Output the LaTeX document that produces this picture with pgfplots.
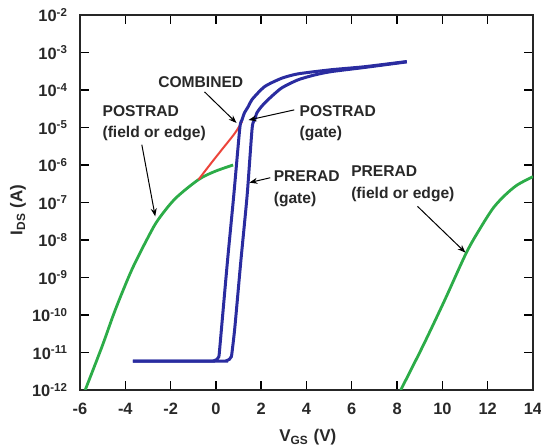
\documentclass[border=0pt]{standalone}
\usepackage{fontspec}
\setmainfont{Liberation Sans}
\usepackage{pgfplots}
\pgfplotsset{compat=1.18}
\usetikzlibrary{arrows.meta}

\definecolor{gateblue}{RGB}{42,44,160}
\definecolor{edgegreen}{RGB}{44,172,72}
\definecolor{combred}{RGB}{236,68,58}
\definecolor{txt}{RGB}{40,40,40}

\begin{document}
\begin{tikzpicture}
\begin{axis}[
    scale only axis,
    width=226.5pt, height=187.5pt,
    ymode=log,
    xmin=-6, xmax=14, ymin=1e-12, ymax=1e-2,
    xtick={-6,-4,-2,0,2,4,6,8,10,12,14},
    xticklabels={-6,-4,-2,0,2,4,6,8,10,12,14},
    ytick={1e-12,1e-11,1e-10,1e-9,1e-8,1e-7,1e-6,1e-5,1e-4,1e-3,1e-2},
    yticklabels={10\textsuperscript{-12},10\textsuperscript{-11},10\textsuperscript{-10},
        10\textsuperscript{-9},10\textsuperscript{-8},10\textsuperscript{-7},10\textsuperscript{-6},
        10\textsuperscript{-5},10\textsuperscript{-4},10\textsuperscript{-3},10\textsuperscript{-2}},
    xminorticks=false, yminorticks=false,
    tick align=inside,
    major tick length=4.5pt,
    every tick/.style={black, line width=0.7pt},
    axis line style={line width=1.1pt, black!85},
    tick label style={font=\bfseries\fontsize{8.2}{9}\selectfont, text=txt},
    xticklabel style={yshift=-3pt},
    yticklabel style={xshift=-2.5pt},
    every axis x label/.style={at={(axis description cs:0.503,-0.125)}, anchor=center},
    every axis y label/.style={at={(axis description cs:-0.137,0.48)}, rotate=90, anchor=center},
    label style={font=\bfseries\fontsize{8.5}{10}\selectfont, text=txt},
    xlabel={V\textsubscript{GS} (V)},
    ylabel={I\textsubscript{DS} (A)},
]
\coordinate (bl) at (rel axis cs:0,0);
\coordinate (tr) at (rel axis cs:1,1);

% POSTRAD field/edge
\addplot[edgegreen, line width=1.4pt, smooth, tension=0.5] coordinates {
  (-5.77,1.0e-12) (-5.02,1.48e-11) (-4.44,1.38e-10) (-3.71,1.62e-9) (-2.97,1.26e-8)
  (-2.55,3.47e-8) (-1.80,1.26e-7) (-0.77,4.07e-7) (-0.04,6.76e-7) (0.76,1.0e-6)
};
% combined
\addplot[combred, line width=1pt, smooth, tension=0.5] coordinates {
  (-0.77,4.07e-7) (-0.22,1.10e-6) (0.25,2.51e-6) (0.84,7.08e-6) (1.16,1.45e-5)
};
% PRERAD field/edge
\addplot[edgegreen, line width=1.4pt, smooth, tension=0.5] coordinates {
  (8.16,1.0e-12) (9.13,1.45e-11) (10.09,2.4e-10) (11.06,4.6e-9) (11.68,2.1e-8)
  (12.25,7.2e-8) (12.78,1.6e-7) (13.31,2.95e-7) (14.0,4.9e-7)
};
% POSTRAD gate
\addplot[gateblue, line width=1.5pt, smooth, tension=0.4] coordinates {
  (-3.67,5.89e-12) (-0.25,5.89e-12) (-0.10,6.0e-12) (0.055,6.6e-12) (0.12,7.6e-12)
  (0.145,8.9e-12) (0.25,4.57e-11) (0.51,2.69e-9) (0.79,1.58e-7) (1.055,9.55e-6) (1.15,1.58e-5)
  (1.26,2.45e-5) (1.44,3.72e-5) (1.60,5.62e-5) (2.15,1.23e-4) (2.89,2.04e-4)
  (3.62,2.69e-4) (5.09,3.47e-4) (6.55,4.17e-4) (8.43,5.75e-4)
};
% PRERAD gate
\addplot[gateblue, line width=1.5pt, smooth, tension=0.4] coordinates {
  (-3.67,5.89e-12) (0.30,5.89e-12) (0.45,6.0e-12) (0.60,6.6e-12) (0.67,7.6e-12)
  (0.70,8.9e-12) (0.835,4.57e-11) (1.10,2.69e-9) (1.38,1.58e-7) (1.60,9.55e-6) (1.71,1.58e-5)
  (1.80,2.40e-5) (2.00,3.55e-5) (2.30,5.50e-5) (2.89,1.12e-4) (3.62,1.86e-4)
  (4.35,2.51e-4) (5.09,3.09e-4) (6.55,3.98e-4) (8.43,5.62e-4)
};

\begin{scope}[every node/.style={font=\bfseries\fontsize{7.8}{10.7}\selectfont, text=txt, inner sep=0pt}]
\node[anchor=center] at (axis cs:-0.67,1.58e-4) {COMBINED};
\node[anchor=west, align=left] at (axis cs:-5.02,1.29e-5) {POSTRAD\\(field or edge)};
\node[anchor=west, align=left] at (axis cs:3.68,1.29e-5) {POSTRAD\\(gate)};
\node[anchor=west, align=left] at (axis cs:2.54,2.34e-7) {PRERAD\\(gate)};
\node[anchor=west, align=left] at (axis cs:5.96,3.16e-7) {PRERAD\\(field or edge)};
\end{scope}

\begin{scope}[-{Stealth[length=4pt,width=3pt]}, line width=0.5pt, black]
\draw (axis cs:-0.50,8.9e-5) -- (axis cs:0.91,1.32e-5);
\draw (axis cs:3.46,2.95e-5) -- (axis cs:1.44,1.58e-5);
\draw (axis cs:-3.27,3.47e-6) -- (axis cs:-2.68,4.27e-8);
\draw (axis cs:2.40,4.57e-7) -- (axis cs:1.48,3.39e-7);
\draw (axis cs:8.90,7.9e-8) -- (axis cs:11.02,4.6e-9);
\end{scope}
\end{axis}
\pgfresetboundingbox
\path ([shift={(-40pt,-29pt)}]bl) rectangle ([shift={(4pt,7.5pt)}]tr);
\end{tikzpicture}
\end{document}
